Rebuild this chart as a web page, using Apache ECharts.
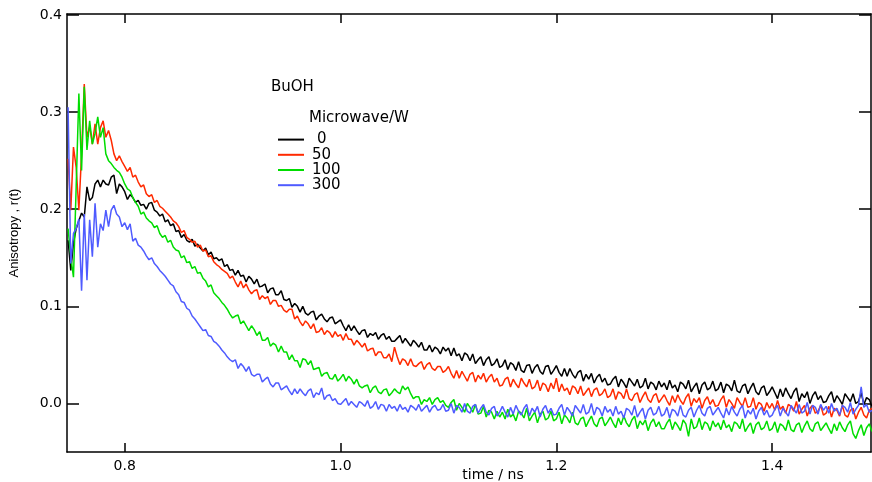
<!DOCTYPE html>
<html><head><meta charset="utf-8">
<script src="https://cdn.jsdelivr.net/npm/echarts@6/dist/echarts.min.js"></script>
<style>html,body{margin:0;padding:0;background:#fff}#c{width:872px;height:482px}</style>
</head><body><div id="c"></div>
<script>
const timeNs = [0.7475,0.75,0.7525,0.755,0.7575,0.76,0.7625,0.765,0.7675,0.77,0.7725,0.775,0.7775,0.78,0.7825,0.785,0.7875,0.79,0.7925,0.795,
0.7975,0.8,0.8025,0.805,0.8075,0.81,0.8125,0.815,0.8175,0.82,0.8225,0.825,0.8275,0.83,0.8325,0.835,0.8375,0.84,0.8425,0.845,
0.8475,0.85,0.8525,0.855,0.8575,0.86,0.8625,0.865,0.8675,0.87,0.8725,0.875,0.8775,0.88,0.8825,0.885,0.8875,0.89,0.8925,0.895,
0.8975,0.9,0.9025,0.905,0.9075,0.91,0.9125,0.915,0.9175,0.92,0.9225,0.925,0.9275,0.93,0.9325,0.935,0.9375,0.94,0.9425,0.945,
0.9475,0.95,0.9525,0.955,0.9575,0.96,0.9625,0.965,0.9675,0.97,0.9725,0.975,0.9775,0.98,0.9825,0.985,0.9875,0.99,0.9925,0.995,
0.9975,1.0,1.0025,1.005,1.0075,1.01,1.0125,1.015,1.0175,1.02,1.0225,1.025,1.0275,1.03,1.0325,1.035,1.0375,1.04,1.0425,1.045,
1.0475,1.05,1.0525,1.055,1.0575,1.06,1.0625,1.065,1.0675,1.07,1.0725,1.075,1.0775,1.08,1.0825,1.085,1.0875,1.09,1.0925,1.095,
1.0975,1.1,1.1025,1.105,1.1075,1.11,1.1125,1.115,1.1175,1.12,1.1225,1.125,1.1275,1.13,1.1325,1.135,1.1375,1.14,1.1425,1.145,
1.1475,1.15,1.1525,1.155,1.1575,1.16,1.1625,1.165,1.1675,1.17,1.1725,1.175,1.1775,1.18,1.1825,1.185,1.1875,1.19,1.1925,1.195,
1.1975,1.2,1.2025,1.205,1.2075,1.21,1.2125,1.215,1.2175,1.22,1.2225,1.225,1.2275,1.23,1.2325,1.235,1.2375,1.24,1.2425,1.245,
1.2475,1.25,1.2525,1.255,1.2575,1.26,1.2625,1.265,1.2675,1.27,1.2725,1.275,1.2775,1.28,1.2825,1.285,1.2875,1.29,1.2925,1.295,
1.2975,1.3,1.3025,1.305,1.3075,1.31,1.3125,1.315,1.3175,1.32,1.3225,1.325,1.3275,1.33,1.3325,1.335,1.3375,1.34,1.3425,1.345,
1.3475,1.35,1.3525,1.355,1.3575,1.36,1.3625,1.365,1.3675,1.37,1.3725,1.375,1.3775,1.38,1.3825,1.385,1.3875,1.39,1.3925,1.395,
1.3975,1.4,1.4025,1.405,1.4075,1.41,1.4125,1.415,1.4175,1.42,1.4225,1.425,1.4275,1.43,1.4325,1.435,1.4375,1.44,1.4425,1.445,
1.4475,1.45,1.4525,1.455,1.4575,1.46,1.4625,1.465,1.4675,1.47,1.4725,1.475,1.4775,1.48,1.4825,1.485,1.4875,1.49,1.4925];

const r0W = [0.168,0.137,0.165,0.180,0.188,0.196,0.192,0.223,0.209,0.212,0.226,0.230,0.223,0.230,0.226,0.225,0.233,0.235,0.216,0.226,0.223,
0.218,0.210,0.215,0.212,0.207,0.209,0.204,0.205,0.200,0.206,0.207,0.199,0.197,0.193,0.195,0.187,0.189,0.183,0.185,0.177,
0.178,0.171,0.174,0.168,0.166,0.169,0.162,0.164,0.160,0.157,0.160,0.153,0.156,0.149,0.150,0.147,0.149,0.141,0.143,0.137,
0.138,0.132,0.137,0.131,0.132,0.125,0.131,0.128,0.123,0.128,0.120,0.121,0.123,0.114,0.118,0.119,0.112,0.112,0.116,0.107,
0.106,0.108,0.099,0.103,0.100,0.094,0.100,0.093,0.091,0.094,0.095,0.086,0.090,0.092,0.087,0.084,0.088,0.089,0.082,0.084,
0.086,0.080,0.075,0.081,0.075,0.080,0.075,0.071,0.075,0.076,0.068,0.072,0.070,0.073,0.066,0.070,0.072,0.066,0.069,0.064,
0.064,0.067,0.070,0.062,0.067,0.063,0.059,0.065,0.062,0.058,0.063,0.055,0.055,0.060,0.053,0.058,0.056,0.051,0.058,0.054,
0.057,0.049,0.057,0.049,0.051,0.044,0.052,0.050,0.044,0.051,0.041,0.045,0.048,0.039,0.045,0.048,0.039,0.041,0.046,0.037,
0.039,0.045,0.035,0.042,0.040,0.034,0.043,0.034,0.032,0.039,0.040,0.031,0.037,0.040,0.033,0.030,0.038,0.039,0.030,0.034,
0.039,0.032,0.028,0.036,0.028,0.036,0.030,0.026,0.032,0.034,0.023,0.030,0.025,0.031,0.021,0.027,0.030,0.022,0.026,0.019,
0.020,0.025,0.028,0.017,0.025,0.021,0.016,0.026,0.022,0.018,0.025,0.016,0.018,0.026,0.015,0.022,0.020,0.014,0.023,0.017,
0.021,0.014,0.024,0.016,0.019,0.012,0.022,0.020,0.015,0.024,0.012,0.017,0.021,0.010,0.019,0.022,0.014,0.016,0.023,0.013,
0.015,0.022,0.011,0.020,0.018,0.013,0.024,0.013,0.011,0.018,0.020,0.010,0.016,0.021,0.012,0.009,0.016,0.018,0.008,0.012,
0.017,0.011,0.005,0.015,0.007,0.016,0.010,0.005,0.012,0.016,0.002,0.010,0.006,0.012,0.000,0.008,0.012,0.004,0.008,0.001,
0.002,0.008,0.012,0.001,0.008,0.004,-0.001,0.010,0.006,0.002,0.010,0.000,0.002,0.011,-0.001,0.006,0.004,-0.003];

const r50W = [0.252,0.199,0.264,0.243,0.199,0.257,0.329,0.274,0.285,0.267,0.288,0.267,0.284,0.291,0.274,0.281,0.271,0.257,0.250,0.255,0.249,
0.244,0.239,0.243,0.233,0.235,0.228,0.223,0.225,0.216,0.213,0.215,0.207,0.209,0.203,0.201,0.198,0.195,0.192,0.188,0.186,
0.182,0.176,0.178,0.171,0.169,0.166,0.167,0.161,0.163,0.157,0.158,0.151,0.152,0.146,0.143,0.141,0.138,0.136,0.134,0.129,
0.131,0.125,0.120,0.126,0.119,0.123,0.117,0.113,0.116,0.117,0.107,0.111,0.108,0.110,0.102,0.106,0.106,0.100,0.101,0.096,
0.094,0.097,0.097,0.087,0.090,0.084,0.080,0.085,0.082,0.077,0.082,0.073,0.074,0.078,0.071,0.075,0.073,0.068,0.074,0.069,
0.071,0.065,0.072,0.066,0.066,0.060,0.065,0.062,0.058,0.062,0.054,0.056,0.057,0.049,0.053,0.053,0.047,0.047,0.051,0.043,
0.058,0.048,0.040,0.046,0.044,0.039,0.046,0.039,0.038,0.041,0.043,0.035,0.040,0.042,0.036,0.034,0.038,0.038,0.032,0.034,
0.038,0.031,0.026,0.034,0.026,0.033,0.028,0.023,0.030,0.032,0.022,0.029,0.025,0.031,0.022,0.027,0.030,0.022,0.026,0.018,
0.019,0.025,0.027,0.017,0.025,0.020,0.016,0.026,0.021,0.017,0.025,0.015,0.017,0.024,0.013,0.021,0.019,0.012,0.021,0.015,
0.026,0.012,0.020,0.013,0.016,0.009,0.018,0.016,0.010,0.018,0.008,0.012,0.016,0.007,0.014,0.016,0.008,0.010,0.015,0.006,
0.008,0.015,0.004,0.012,0.010,0.005,0.015,0.005,0.003,0.009,0.011,0.001,0.007,0.012,0.004,0.001,0.008,0.010,0.001,0.005,
0.009,0.003,-0.002,0.008,0.001,0.009,0.003,-0.001,0.006,0.010,-0.003,0.005,0.001,0.006,-0.005,0.003,0.007,-0.001,0.004,-0.003,
-0.002,0.004,0.008,-0.004,0.004,0.000,-0.005,0.006,0.001,-0.003,0.006,-0.004,-0.003,0.006,-0.006,0.001,-0.001,-0.008,0.001,-0.005,
0.000,-0.007,0.003,-0.006,-0.003,-0.010,-0.001,-0.003,-0.008,0.002,-0.011,-0.006,-0.002,-0.013,-0.005,-0.002,-0.010,-0.008,-0.002,-0.012,
-0.010,-0.003,-0.014,-0.005,-0.007,-0.013,-0.002,-0.012,-0.014,-0.007,-0.005,-0.016,-0.009,-0.004,-0.012,-0.015,-0.007,-0.005];

const r100W = [0.180,0.151,0.130,0.223,0.319,0.240,0.326,0.261,0.291,0.267,0.278,0.295,0.274,0.284,0.257,0.250,0.247,0.243,0.240,0.238,0.233,
0.226,0.221,0.219,0.212,0.207,0.203,0.195,0.197,0.191,0.188,0.186,0.181,0.183,0.175,0.171,0.173,0.166,0.168,0.161,0.158,
0.157,0.150,0.152,0.145,0.146,0.139,0.141,0.134,0.135,0.129,0.126,0.120,0.122,0.114,0.111,0.108,0.104,0.101,0.097,0.092,
0.088,0.090,0.091,0.082,0.085,0.080,0.075,0.080,0.076,0.070,0.074,0.065,0.065,0.068,0.059,0.062,0.060,0.053,0.059,0.053,
0.053,0.045,0.050,0.044,0.044,0.037,0.046,0.045,0.040,0.044,0.035,0.036,0.037,0.028,0.031,0.032,0.026,0.025,0.030,0.023,
0.026,0.030,0.023,0.028,0.025,0.020,0.025,0.018,0.016,0.018,0.019,0.011,0.016,0.018,0.012,0.010,0.014,0.015,0.008,0.011,
0.015,0.012,0.010,0.018,0.014,0.017,0.010,0.005,0.007,0.007,-0.001,0.004,0.002,0.006,-0.001,0.004,0.006,0.001,0.003,-0.002,
-0.004,0.001,0.004,-0.007,0.000,-0.004,-0.009,0.000,-0.004,-0.009,-0.001,-0.011,-0.010,-0.003,-0.014,-0.007,-0.009,-0.016,-0.008,-0.014,
-0.009,-0.016,-0.006,-0.014,-0.011,-0.018,-0.008,-0.010,-0.015,-0.005,-0.018,-0.013,-0.009,-0.020,-0.011,-0.008,-0.017,-0.015,-0.008,-0.018,
-0.016,-0.009,-0.021,-0.012,-0.015,-0.020,-0.009,-0.020,-0.022,-0.016,-0.014,-0.024,-0.018,-0.013,-0.021,-0.024,-0.016,-0.014,-0.023,-0.019,
-0.014,-0.020,-0.025,-0.015,-0.022,-0.013,-0.020,-0.024,-0.017,-0.013,-0.026,-0.018,-0.022,-0.017,-0.028,-0.020,-0.016,-0.024,-0.019,-0.026,
-0.026,-0.020,-0.016,-0.027,-0.019,-0.023,-0.028,-0.017,-0.021,-0.034,-0.016,-0.026,-0.024,-0.015,-0.027,-0.019,-0.021,-0.028,-0.018,-0.024,
-0.020,-0.027,-0.017,-0.025,-0.022,-0.029,-0.019,-0.021,-0.026,-0.016,-0.029,-0.024,-0.020,-0.031,-0.022,-0.019,-0.027,-0.025,-0.018,-0.028,
-0.026,-0.019,-0.030,-0.021,-0.023,-0.028,-0.017,-0.027,-0.029,-0.022,-0.020,-0.030,-0.023,-0.018,-0.026,-0.029,-0.021,-0.019,-0.028,-0.024,
-0.020,-0.026,-0.031,-0.021,-0.028,-0.019,-0.025,-0.029,-0.022,-0.018,-0.031,-0.036,-0.028,-0.022,-0.033,-0.025,-0.021,-0.029];

const r300W = [0.305,0.144,0.175,0.180,0.190,0.116,0.195,0.127,0.189,0.151,0.206,0.161,0.185,0.178,0.199,0.182,0.199,0.204,0.195,0.192,0.182,
0.186,0.179,0.185,0.167,0.170,0.163,0.161,0.157,0.152,0.148,0.150,0.144,0.141,0.137,0.134,0.131,0.127,0.123,0.121,0.115,
0.112,0.105,0.104,0.098,0.096,0.090,0.087,0.083,0.079,0.075,0.076,0.070,0.069,0.064,0.062,0.059,0.055,0.052,0.048,0.045,
0.043,0.045,0.036,0.041,0.038,0.033,0.038,0.030,0.028,0.030,0.030,0.022,0.025,0.027,0.020,0.017,0.021,0.021,0.014,0.016,
0.018,0.013,0.009,0.015,0.010,0.015,0.011,0.008,0.013,0.015,0.006,0.011,0.009,0.016,0.004,0.008,0.009,0.003,0.005,0.000,
-0.001,0.002,0.005,-0.002,0.002,-0.001,-0.004,0.002,0.000,-0.003,0.003,-0.005,-0.003,0.002,-0.006,-0.001,-0.002,-0.008,-0.001,-0.005,
-0.003,-0.008,-0.001,-0.006,-0.004,-0.009,-0.002,-0.004,-0.007,-0.001,-0.008,-0.005,-0.002,-0.009,-0.004,-0.002,-0.007,-0.006,-0.001,-0.008,
-0.007,0.000,-0.010,-0.002,-0.004,-0.009,0.000,-0.008,-0.010,-0.003,-0.001,-0.010,-0.005,-0.001,-0.009,-0.012,-0.005,-0.003,-0.013,-0.009,
-0.003,-0.009,-0.014,-0.004,-0.011,-0.002,-0.008,-0.012,-0.005,-0.001,-0.013,-0.005,-0.009,-0.003,-0.014,-0.006,-0.002,-0.010,-0.005,-0.012,
-0.011,-0.005,-0.001,-0.012,-0.004,-0.008,-0.013,-0.002,-0.006,-0.010,-0.001,-0.011,-0.009,0.000,-0.012,-0.004,-0.006,-0.013,-0.003,-0.009,
-0.006,-0.013,-0.003,-0.011,-0.008,-0.015,-0.005,-0.007,-0.012,-0.002,-0.014,-0.009,-0.005,-0.016,-0.007,-0.004,-0.012,-0.010,-0.003,-0.013,
-0.011,-0.004,-0.015,-0.006,-0.008,-0.013,-0.002,-0.012,-0.014,-0.007,-0.004,-0.014,-0.007,-0.002,-0.010,-0.013,-0.005,-0.003,-0.012,-0.008,
-0.004,-0.010,-0.015,-0.005,-0.012,-0.003,-0.009,-0.013,-0.006,-0.002,-0.015,-0.007,-0.011,-0.005,-0.016,-0.008,-0.004,-0.012,-0.007,-0.014,
-0.012,-0.006,-0.002,-0.013,-0.005,-0.009,-0.013,-0.002,-0.006,-0.010,-0.001,-0.010,-0.008,0.001,-0.011,-0.002,-0.004,-0.011,-0.001,-0.007,
-0.003,-0.010,0.000,-0.008,-0.005,-0.012,-0.002,-0.004,-0.009,0.001,-0.011,-0.006,-0.002,0.017,-0.004,-0.001,-0.009,-0.007];

const seriesNames = ['0', '50', '100', '300'];
const seriesColors = ['#000000', '#ff2a00', '#00dd00', '#4f5bff'];
const xTicks = [0.8, 1.0, 1.2, 1.4];
const yTicks = [0.0, 0.1, 0.2, 0.3, 0.4];
const seriesValues = [r0W, r50W, r100W, r300W];

const chart = echarts.init(document.getElementById('c'), null, { renderer: 'canvas' });
const lineSty = { color: '#000', width: 1.5 };
const xBase = {
  type: 'value', min: 0.7465, max: 1.4916,
  axisLine: { show: true, onZero: false, lineStyle: lineSty },
  axisTick: { show: true, inside: true, length: 9, customValues: xTicks, lineStyle: lineSty },
  splitLine: { show: false }
};
const yBase = {
  type: 'value', min: -0.05, max: 0.401,
  axisLine: { show: true, onZero: false, lineStyle: lineSty },
  axisTick: { show: true, inside: true, length: 12, customValues: yTicks, lineStyle: lineSty },
  splitLine: { show: false }
};
const tickFont = { color: '#000', fontFamily: 'DejaVu Sans', fontSize: 14 };

chart.setOption({
  animation: false,
  backgroundColor: '#fff',
  grid: { left: 67, right: 1, top: 14, bottom: 30, containLabel: false, outerBoundsMode: 'none' },
  xAxis: [
    Object.assign({}, xBase, {
      position: 'bottom',
      axisLabel: Object.assign({ customValues: xTicks, margin: 7, formatter: v => v.toFixed(1) }, tickFont),
      name: 'time / ns', nameLocation: 'middle', nameGap: 16, nameMoveOverlap: false,
      nameTextStyle: { color: '#000', fontFamily: 'DejaVu Sans', fontSize: 14, padding: [0, 0, 0, 48] }
    }),
    Object.assign({}, xBase, { position: 'top', axisLabel: { show: false } })
  ],
  yAxis: [
    Object.assign({}, yBase, {
      position: 'left',
      axisLabel: Object.assign({ customValues: yTicks, margin: 5, formatter: v => v.toFixed(1) }, tickFont),
      name: 'Anisotropy , r(t)', nameLocation: 'middle', nameGap: 46, nameMoveOverlap: false,
      nameTextStyle: { color: '#000', fontFamily: 'Liberation Sans', fontSize: 13 }
    }),
    Object.assign({}, yBase, { position: 'right', axisLabel: { show: false } })
  ],
  legend: {
    orient: 'vertical', left: 273, top: 127,
    itemWidth: 26, itemHeight: 2, itemGap: 0, icon: 'rect',
    selectedMode: false,
    data: seriesNames,
    formatter: n => (n === '0' ? '\u2004' + n : n),
    textStyle: { color: '#000', fontFamily: 'DejaVu Sans', fontSize: 15, lineHeight: 15.2, padding: [0, 0, 0, 3] }
  },
  graphic: [
    { type: 'text', left: 271, top: 80, style: { text: 'BuOH', fill: '#000', font: '15px "DejaVu Sans"' } },
    { type: 'text', left: 309, top: 111, style: { text: 'Microwave/W', fill: '#000', font: '15px "DejaVu Sans"' } }
  ],
  series: seriesNames.map((name, k) => ({
    name: name,
    type: 'line',
    xAxisIndex: 0, yAxisIndex: 0,
    showSymbol: false, symbol: 'none',
    silent: true,
    color: seriesColors[k],
    lineStyle: { color: seriesColors[k], width: 1.5 },
    data: timeNs.map((t, i) => [t, seriesValues[k][i]]).filter(p => p[1] !== undefined)
  }))
});
</script>
</body></html>
